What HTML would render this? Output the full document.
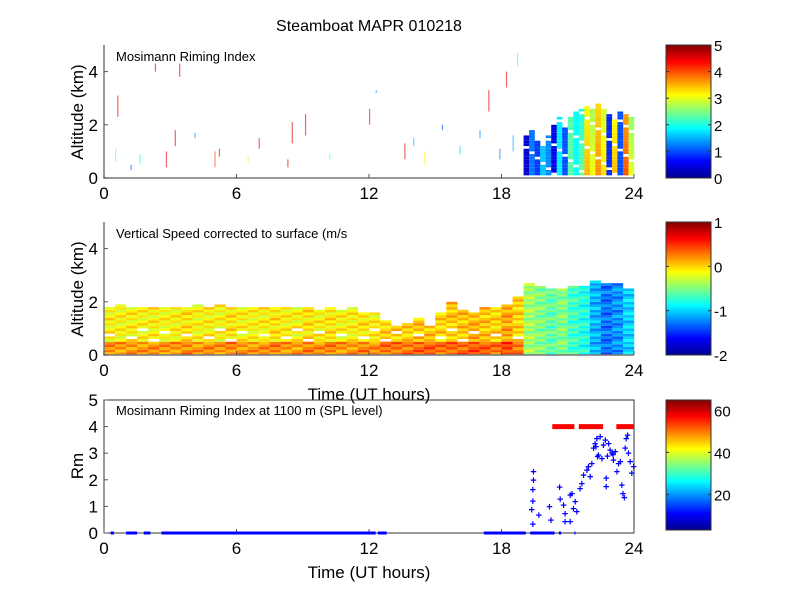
<!DOCTYPE html>
<html><head><meta charset="utf-8"><style>
body{margin:0;background:#fff}
svg{font-family:"Liberation Sans",Arial,sans-serif}
</style></head><body>
<svg id="fig" width="800" height="600" viewBox="0 0 800 600" xmlns="http://www.w3.org/2000/svg">
<defs>
<linearGradient id="jet" x1="0" y1="1" x2="0" y2="0">
<stop offset="0" stop-color="#00008f"/><stop offset="0.125" stop-color="#0000ff"/><stop offset="0.375" stop-color="#00ffff"/><stop offset="0.625" stop-color="#ffff00"/><stop offset="0.875" stop-color="#ff0000"/><stop offset="1" stop-color="#800000"/>
</linearGradient>
</defs>
<text x="369" y="31" font-size="16" text-anchor="middle">Steamboat MAPR 010218</text>
<g id="p1"></g>
<g id="p2"></g>
<g id="p3"></g>
</svg>
<script>
// ---- data ----
const p1Times=[19,19.25,19.5,19.75,20,20.25,20.5,20.75,21,21.25,21.5,21.75,22,22.25,22.5,22.75,23,23.25,23.5,23.75];
const p1Tops=[1.6,1.8,1.4,1.2,1.6,2.0,2.3,2.0,2.3,2.5,2.6,2.7,2.6,2.8,2.6,2.4,2.2,2.5,2.4,2.3];
const p1Vals=[1.0,0.9,1.2,1.0,1.3,1.1,1.5,1.3,1.7,1.9,2.6,2.8,3.0,2.7,2.9,1.4,2.8,1.3,3.0,2.6];
const p1SpeckT=[0.5,0.6,1.2,1.6,2.3,2.8,3.2,3.4,4.1,5.0,5.2,6.5,7.0,8.3,8.5,9.1,10.2,12.0,12.3,13.6,14.0,14.5,15.3,16.1,17.0,17.4,17.9,18.2,18.5,18.7];
const p1SpeckA=[0.6,2.3,0.3,0.5,4.0,0.4,1.2,3.8,1.5,0.4,0.8,0.6,1.1,0.4,1.3,1.6,0.7,2.0,3.2,0.7,1.2,0.5,1.8,0.9,1.5,2.5,0.7,3.4,1.0,4.2];
const p1SpeckV=[2.4,4.5,1.0,2.0,4.6,4.5,4.6,4.5,1.3,4.0,4.5,2.8,4.5,4.5,4.6,4.5,2.0,4.4,1.2,4.5,1.5,3.2,1.0,1.6,1.3,4.5,1.2,4.5,1.5,2.2];
const p1SpeckH=[0.5,0.8,0.2,0.4,0.3,0.6,0.6,0.5,0.2,0.6,0.3,0.2,0.4,0.3,0.8,0.8,0.2,0.6,0.1,0.6,0.3,0.5,0.2,0.3,0.3,0.8,0.4,0.6,0.6,0.5];
const p2Times=[0,0.5,1,1.5,2,2.5,3,3.5,4,4.5,5,5.5,6,6.5,7,7.5,8,8.5,9,9.5,10,10.5,11,11.5,12,12.5,13,13.5,14,14.5,15,15.5,16,16.5,17,17.5,18,18.5,19,19.5,20,20.5,21,21.5,22,22.5,23,23.5];
const p2Tops=[1.8,1.9,1.8,1.8,1.8,1.8,1.8,1.8,1.9,1.8,1.9,1.8,1.8,1.8,1.8,1.8,1.8,1.8,1.8,1.7,1.8,1.7,1.8,1.6,1.6,1.3,1.0,1.2,1.4,1.0,1.6,2.0,1.7,1.6,1.8,1.8,1.9,2.2,2.7,2.6,2.5,2.5,2.6,2.6,2.8,2.7,2.7,2.5];
const p2Vals=[-0.1,-0.12,-0.1,-0.12,-0.1,-0.12,-0.1,-0.05,-0.12,-0.1,-0.12,-0.05,-0.1,-0.12,-0.1,-0.05,-0.1,-0.12,-0.05,-0.1,-0.05,-0.1,-0.1,-0.05,-0.1,0.0,0.0,0.0,0.05,0.05,0.0,0.05,0.05,0.1,0.05,0.0,0.15,0.0,-0.4,-0.5,-0.6,-0.5,-0.7,-0.8,-1.1,-1.3,-1.2,-1.0];
const p3Ts=[19.45,19.45,19.42,19.42,19.37,19.42,19.69,20.17,20.24,20.63,20.66,20.81,20.88,20.88,21.11,21.11,21.19,21.26,21.34,21.41,21.56,21.64,21.72,21.87,21.94,22.02,22.09,22.17,22.24,22.32,22.39,22.47,22.62,22.70,22.74,22.74,22.85,22.92,23.00,23.07,23.15,23.23,23.30,23.38,23.45,23.50,23.56,23.60,23.65,23.71,23.75,23.83,23.90,23.98,22.28,22.35,22.55,22.80,23.05];
const p3Rm=[2.31,1.99,1.64,1.20,0.89,0.34,0.67,0.99,0.48,1.72,1.27,1.06,0.74,0.43,1.43,0.43,1.49,0.93,1.18,0.80,1.68,1.87,2.18,2.37,2.50,2.12,2.62,3.19,3.37,3.56,2.93,3.62,3.31,3.50,2.06,1.74,3.37,3.12,3.00,2.75,3.06,2.31,2.62,2.68,1.81,1.49,1.33,3.19,3.56,3.69,3.00,2.68,2.25,2.50,3.25,2.87,2.81,2.90,2.95];
const zeroStart=[0.3,1.0,1.8,2.6,12.4,17.2,19.3,20.6,21.3];
const zeroEnd=[0.45,1.5,2.1,12.3,12.8,19.1,20.4,20.7,21.35];
const splStart=[20.3,21.5,23.2];
const splEnd=[21.3,22.6,24.0];
const xTicks=[0,6,12,18,24];
// ---- helpers ----
const NS="http://www.w3.org/2000/svg";
function mk(parent,tag,attrs){const e=document.createElementNS(NS,tag);for(const k in attrs)e.setAttribute(k,attrs[k]);parent.appendChild(e);return e;}
function jet(f){f=Math.max(0,Math.min(1,f));
 const r=Math.max(0,Math.min(1,1.5-Math.abs(4*f-3))),g=Math.max(0,Math.min(1,1.5-Math.abs(4*f-2))),b=Math.max(0,Math.min(1,1.5-Math.abs(4*f-1)));
 return `rgb(${Math.round(r*255)},${Math.round(g*255)},${Math.round(b*255)})`;}
const X0=104,X1=634;
const xs=t=>X0+(X1-X0)*t/24;
function frame(g,top,bot,ymax,yt,box,xlabel){
 const ys=v=>bot-(bot-top)*v/ymax;
 if(box){const r=mk(g,'rect',{x:X0,y:top,width:X1-X0,height:bot-top,fill:'none',stroke:'#333','stroke-width':1});}
 else{const l=mk(g,'path',{d:`M${X0},${top}V${bot}H${X1}`,fill:'none',stroke:'#777','stroke-width':1.5});}
 xTicks.forEach(t=>{mk(g,'line',{x1:xs(t),x2:xs(t),y1:bot,y2:bot-4,stroke:'#555'});
  const tx=mk(g,'text',{x:xs(t),y:bot+21,'font-size':17,'text-anchor':'middle'});tx.textContent=t;
  });
 yt.forEach(v=>{mk(g,'line',{x1:X0,x2:X0+4,y1:ys(v),y2:ys(v),stroke:'#555'});
  const tx=mk(g,'text',{x:X0-6,y:ys(v)+6,'font-size':17,'text-anchor':'end'});tx.textContent=v;
  });
 if(xlabel){const tx=mk(g,'text',{x:369,y:bot+45,'font-size':17,'text-anchor':'middle'});tx.textContent=xlabel;
  }
 return ys;}
function colorbar(g,top,bot,vmin,vmax,ticks){
 const r=mk(g,'rect',{x:666,y:top,width:45,height:bot-top,fill:'url(#jet)',stroke:'#333'});
 
 ticks.forEach(v=>{const y=bot-(bot-top)*(v-vmin)/(vmax-vmin);
  mk(g,'line',{x1:666,x2:669,y1:y,y2:y,stroke:'#333'});mk(g,'line',{x1:708,x2:711,y1:y,y2:y,stroke:'#333'});
  const tx=mk(g,'text',{x:714,y:y+6,'font-size':15});tx.textContent=v;
  });}
function ylab(g,cy,txt){const tx=mk(g,'text',{x:0,y:0,'font-size':17,'text-anchor':'middle',transform:`translate(83,${cy}) rotate(-90)`});tx.textContent=txt;
 }
function ptitle(g,y,txt){const tx=mk(g,'text',{x:116,y:y,'font-size':13});tx.textContent=txt;}
// ---- panel 1 ----
{const g=document.getElementById('p1');const top=45,bot=178;
 const ys=v=>bot-(bot-top)*v/5;
 p1Times.forEach((t,i)=>{for(let a=0.1;a<p1Tops[i];a+=0.1){
   const k=Math.round(a*10);
   if((k*7+i*3)%11===0)continue;
   const v=p1Vals[i]+(((k*5+i*3)%5)-2)*0.3+(p1Vals[i]>2.4?0.4*(1-a/p1Tops[i]):0);
   const c=mk(g,'rect',{x:xs(t),y:ys(a+0.1),width:xs(0.26)-X0,height:ys(0)-ys(0.1),fill:jet(v/5)});
   }});
 p1SpeckT.forEach((t,i)=>{const c=mk(g,'rect',{x:xs(t),y:ys(p1SpeckA[i]+p1SpeckH[i]),width:1.2,height:ys(0)-ys(p1SpeckH[i]),fill:jet(p1SpeckV[i]/5),opacity:0.6});
   });
 frame(g,top,bot,5,[0,2,4],false,null);ylab(g,112,'Altitude (km)');ptitle(g,61,'Mosimann Riming Index');
 colorbar(g,45,178,0,5,[0,1,2,3,4,5]);}
// ---- panel 2 ----
{const g=document.getElementById('p2');const top=222,bot=355;
 const ys=v=>bot-(bot-top)*v/5;
 p2Times.forEach((t,i)=>{for(let a=0;a<p2Tops[i];a+=0.1){
   const k=Math.round(a*10);
   if(p2Vals[i]>-0.3 && k>=5 && k<=9 && (k*3+i*5)%7===0)continue;
   let v=p2Vals[i]+(((k*3+i*2)%5)-2)*0.08;if(a<0.5&&p2Vals[i]>-0.3)v+=0.3;
   const c=mk(g,'rect',{x:xs(t),y:ys(a+0.1),width:xs(0.51)-X0,height:ys(0)-ys(0.1),fill:jet((v+2)/3)});
   }});
 frame(g,top,bot,5,[0,2,4],false,'Time (UT hours)');ylab(g,289,'Altitude (km)');ptitle(g,238,'Vertical Speed corrected to surface (m/s');
 colorbar(g,222,355,-2,1,[-2,-1,0,1]);}
// ---- panel 3 ----
{const g=document.getElementById('p3');const top=400,bot=533;
 const ys=frame(g,top,bot,5,[0,1,2,3,4,5],true,'Time (UT hours)');
 zeroStart.forEach((s,i)=>{const l=mk(g,'line',{x1:xs(s),x2:xs(zeroEnd[i]),y1:ys(0),y2:ys(0),stroke:'#0000ff','stroke-width':3});
   });
 splStart.forEach((s,i)=>{const l=mk(g,'line',{x1:xs(s),x2:xs(splEnd[i]),y1:ys(4),y2:ys(4),stroke:'#ff0000','stroke-width':5});
   });
 p3Ts.forEach((t,i)=>{const p=mk(g,'text',{x:xs(t),y:ys(p3Rm[i])+4,'font-size':11,'text-anchor':'middle',fill:'#0000ff','font-weight':'bold'});p.textContent='+';
   });
 ylab(g,466,'Rm');ptitle(g,415,'Mosimann Riming Index at 1100 m (SPL level)');
 colorbar(g,400,530,3,65,[20,40,60]);}
</script>
</body></html>
